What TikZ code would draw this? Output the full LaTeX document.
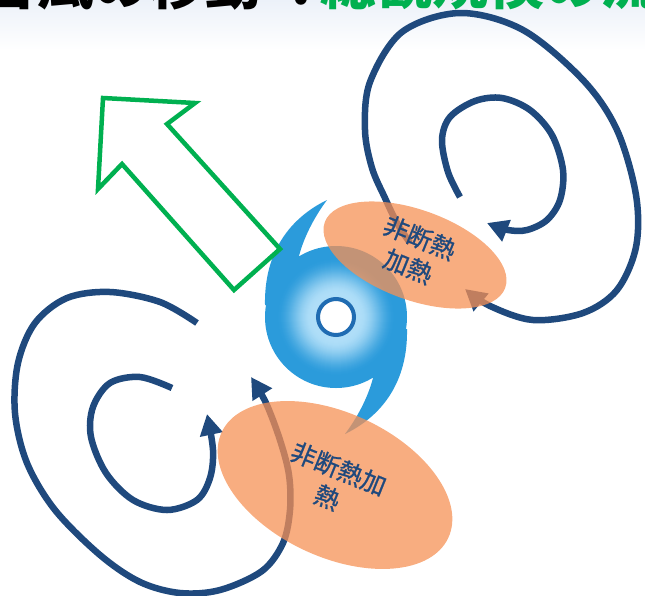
\documentclass[tikz,border=0pt]{standalone}
\usepackage{fontspec}
\newfontfamily\jpfont{Noto Sans CJK JP}
\newfontfamily\jplabelfont{Noto Sans CJK JP}[FakeBold=0.8]
\usetikzlibrary{arrows.meta,shapes.geometric}

\definecolor{gyreblue}{HTML}{1F497D}
\definecolor{trackgreen}{HTML}{00B050}
\definecolor{heatorange}{RGB}{246,145,85}
\definecolor{tyBlue}{RGB}{43,155,219}
\definecolor{tyLight}{RGB}{175,222,248}
\definecolor{eyering}{RGB}{32,108,178}
\definecolor{bandtop}{RGB}{236,241,249}

\tikzset{
  gyre/.style={draw=gyreblue, line width=6.5pt},
  gyrehead/.style={-{Triangle[length=21pt,width=22pt]}},
  heatzone/.style={ellipse, fill=heatorange, fill opacity=0.75, draw=none, inner sep=0pt},
  heatlabel/.style={font=\jplabelfont\fontsize{25}{31}\selectfont, text=gyreblue,
    align=center, rotate=-22, inner sep=0pt},
  trackarrow/.style={draw=trackgreen, line width=4.5pt, line join=miter},
  titlefont/.style={font=\jpfont\bfseries\fontsize{56}{56}\selectfont, inner sep=0pt},
}

\begin{document}
\begin{tikzpicture}[x=1pt, y=-1pt]
\useasboundingbox (0,0) rectangle (645,595);
\clip (0,0) rectangle (645,595);

% pale band under the heading
\fill[top color=bandtop, bottom color=white] (0,0) rectangle (645,50);
\node[titlefont, anchor=base east] (titleA) at (262,4) {台風の移動};
\node[titlefont, anchor=base] (titleColon) at (301,4) {:};
\node[titlefont, anchor=base west, text=trackgreen] (titleB) at (320,4) {総観規模の流};

% gyre to the north-east (clockwise)
\draw[gyre, gyrehead] plot[smooth, tension=0.55] coordinates {
  (410,243) (397,223) (385,198) (372,168) (365,130) (370,82) (402,32)
  (460,13) (523,30) (583,80) (617,130) (636,195) (636,247) (617,290)
  (583,313) (533,320) (490,306) (465,289)};
\draw[gyre, gyrehead] plot[smooth, tension=0.55] coordinates {
  (460,197) (448,172) (442,140) (450,117) (475,101) (502,98) (530,110)
  (552,135) (563,170) (560,200) (547,220) (527,230) (508,230) (487,223)};

% gyre to the south-west (counter-clockwise)
\draw[gyre, gyrehead] plot[smooth, tension=0.55] coordinates {
  (197,323) (160,302) (110,292) (67,298) (35,323) (18,363) (15,413)
  (27,463) (55,510) (100,555) (140,582) (180,593) (220,590) (262,571)
  (283,543) (290,510) (289,475) (280,440) (266,403) (251,377)};
\draw[gyre, gyrehead] plot[smooth, tension=0.55] coordinates {
  (172,388) (140,377) (110,383) (93,407) (91,437) (106,473) (133,500)
  (167,510) (197,500) (210,478) (213,450) (207,414)};

% typhoon symbol: two spiral arms, shaded body, eye
\fill[tyBlue] (327,200) .. controls (290,218) and (264,252) .. (265,305)
  -- (310,305) -- (297,266) .. controls (300,245) and (312,220) .. cycle;
\fill[tyBlue, rotate around={180:(336,317)}] (327,200)
  .. controls (290,218) and (264,252) .. (265,305)
  -- (310,305) -- (297,266) .. controls (300,245) and (312,220) .. cycle;
\foreach \r in {71,70,...,20} {
  \pgfmathsetmacro\glowt{min(1,max(0,(\r-24)/36))}
  \pgfmathsetmacro\glowp{100*\glowt*\glowt*(3-2*\glowt)}
  \fill[tyBlue!\glowp!tyLight] (336,317) circle[radius=\r];
}
\draw[eyering, line width=4pt, fill=white] (336,317) circle[radius=18];

% storm motion
\draw[trackarrow] (103,98) -- (195,103) -- (167,124) -- (280,249)
  -- (234,290) -- (122,164) -- (98,189) -- cycle;

% diabatic heating regions
\node[heatzone, minimum width=192pt, minimum height=90pt, rotate=-20] (heatNE) at (415,255) {};
\node[heatzone, minimum width=250pt, minimum height=144pt, rotate=-25] (heatSW) at (335,485) {};
\node[heatlabel] (labelNE) at (414,252) {非断熱\\加熱};
\node[heatlabel] (labelSW) at (333,483) {非断熱加\\熱};
\end{tikzpicture}
\end{document}
